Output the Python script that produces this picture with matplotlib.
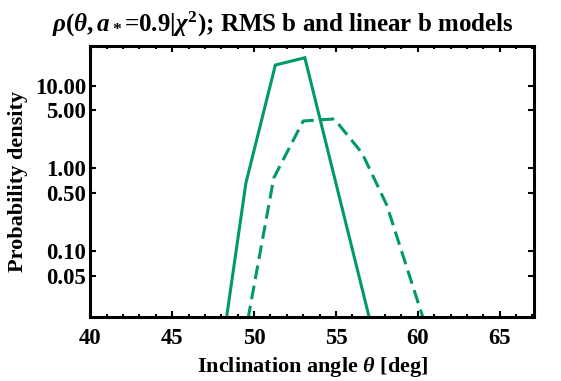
import matplotlib
matplotlib.use("Agg")
import matplotlib.pyplot as plt
from matplotlib.ticker import FixedLocator, FixedFormatter, MultipleLocator, NullLocator

# fonts: bold Times-like everywhere
plt.rcParams['font.family'] = ['Liberation Serif', 'DejaVu Serif']
plt.rcParams['font.weight'] = 'bold'
plt.rcParams['mathtext.fontset'] = 'custom'
plt.rcParams['mathtext.rm'] = 'Liberation Serif:bold'
plt.rcParams['mathtext.it'] = 'Liberation Serif:italic:bold'
plt.rcParams['mathtext.bf'] = 'Liberation Serif:bold'

# data
theta_rms = [47.7, 49.5, 51.3, 53.1, 54.9, 56.7, 58.5]
rho_rms = [0.0022, 0.66, 17.7, 21.7, 0.79, 0.029, 0.001]

theta_lin = [49.4, 51.2, 53.0, 54.9, 56.6, 58.1, 60.5]
rho_lin = [0.0085, 0.76, 3.73, 3.95, 1.52, 0.36, 0.012]

ytick_vals = [0.05, 0.1, 0.5, 1, 5, 10]
ytick_labels = ['0.05', '0.10', '0.50', '1.00', '5.00', '10.00']

green = '#009a66'

fig = plt.figure(figsize=(5.61, 3.81), dpi=100)
ax = fig.add_axes([0.161, 0.168, 0.791, 0.711])

ax.plot(theta_rms, rho_rms, color=green, lw=2.2, solid_joinstyle='miter')
ax.plot(theta_lin, rho_lin, color=green, lw=2.2, dashes=(4.5, 2.2))

ax.set_yscale('log')
ax.set_xlim(40, 67.1)
ax.set_ylim(0.0159, 30)

ax.xaxis.set_major_locator(MultipleLocator(5))
ax.xaxis.set_minor_locator(MultipleLocator(1))
ax.yaxis.set_major_locator(FixedLocator(ytick_vals))
ax.yaxis.set_major_formatter(FixedFormatter(ytick_labels))
ax.yaxis.set_minor_locator(NullLocator())

ax.tick_params(which='both', direction='in', top=True, right=True, width=1.5)
ax.tick_params(which='major', length=4, labelsize=16.4)
ax.tick_params(which='minor', length=2)
ax.tick_params(axis='x', which='major', pad=8)
ax.tick_params(axis='y', which='major', pad=3)
for lab in ax.get_xticklabels() + ax.get_yticklabels():
    lab.set_fontweight('bold')
for sp in ax.spines.values():
    sp.set_linewidth(2.2)

ax.set_xlabel(r'Inclination angle $\theta$ [deg]', fontsize=16, fontweight='bold', labelpad=4)
ax.set_ylabel('Probability density', fontsize=16, fontweight='bold', labelpad=5)

fig.text(0.505, 0.937, r'$\rho(\theta,a_*$=0.9$|\chi^2)$; RMS b and linear b models',
         ha='center', va='center', fontsize=18, fontweight='bold')

fig.savefig('out.png', dpi=100)
